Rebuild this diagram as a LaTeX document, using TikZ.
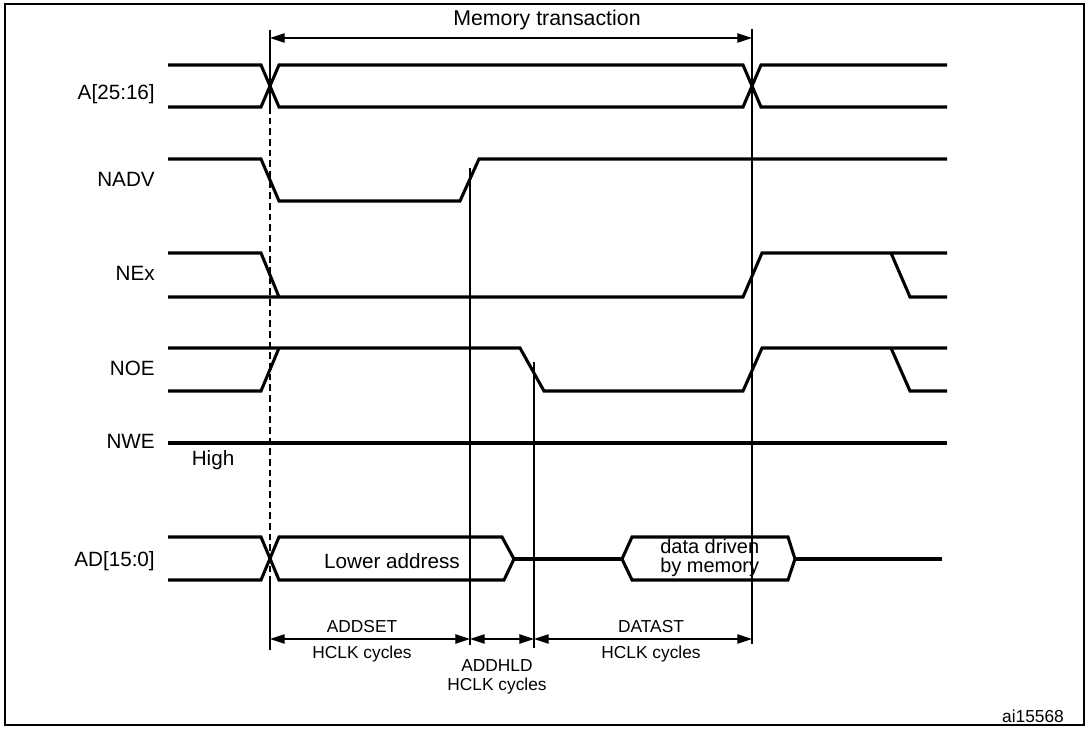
\documentclass[tikz,border=0pt]{standalone}
\usepackage{fontspec}
\setmainfont{Liberation Sans}
\usetikzlibrary{arrows.meta}
\begin{document}
\begin{tikzpicture}[x=0.75pt,y=-0.75pt,
  sig/.style={line width=2.3pt, line join=miter},
  guide/.style={line width=0.8pt},
  dashguide/.style={line width=0.8pt, dash pattern=on 5pt off 3pt},
  dim/.style={line width=0.8pt, {Triangle[length=11pt,width=7pt]}-{Triangle[length=11pt,width=7pt]}},
  lbl/.style={font=\fontsize{15.5}{17}\selectfont, anchor=base east, inner sep=0pt},
  txt/.style={font=\fontsize{15.5}{17}\selectfont, anchor=base, inner sep=0pt},
  small/.style={font=\fontsize{13}{15}\selectfont, anchor=base, inner sep=0pt},
]
\useasboundingbox (0,0) rectangle (1087,728);
\draw[line width=1.6pt] (5,4) rectangle (1084,725);

% signal labels
\node[lbl] (lA) at (155,99) {A[25:16]};
\node[lbl] (lNADV) at (155,186) {NADV};
\node[lbl] (lNEx) at (155,280) {NEx};
\node[lbl] (lNOE) at (155,375) {NOE};
\node[lbl] (lNWE) at (155,448) {NWE};
\node[lbl] (lAD) at (155,566) {AD[15:0]};
\node[txt] (lHigh) at (213,465) {High};

% A[25:16]
\draw[sig] (168,65) -- (261,65) -- (279,107) -- (743,107) -- (761,65) -- (947,65);
\draw[sig] (168,107) -- (261,107) -- (279,65) -- (743,65) -- (761,107) -- (947,107);
% NADV
\draw[sig] (168,159) -- (261,159) -- (279,201) -- (460,201) -- (479,159) -- (947,159);
% NEx
\draw[sig] (168,297) -- (743,297) -- (762,253) -- (947,253);
\draw[sig] (168,253) -- (261,253) -- (279,297);
\draw[sig] (891,253) -- (910,297) -- (947,297);
% NOE
\draw[sig] (168,348) -- (520,348) -- (544,391) -- (743,391) -- (762,348) -- (947,348);
\draw[sig] (168,391) -- (261,391) -- (279,348);
\draw[sig] (891,348) -- (910,391) -- (947,391);
% NWE
\draw[sig] (168,443) -- (947,443);
% AD[15:0]
\draw[sig] (168,537) -- (261,537) -- (279,580) -- (504,580) -- (514,559) -- (502,537) -- (279,537) -- (261,580) -- (168,580);
\draw[sig] (514,559) -- (622,559);
\draw[sig] (622,559) -- (632,537) -- (788,537) -- (795,559) -- (788,580) -- (632,580) -- cycle;
\draw[sig] (795,559) -- (942,559);
\node[txt] (lLow) at (392,568) {Lower address};
\node[txt, anchor=base west, font=\fontsize{15}{16}\selectfont] (lData1) at (660,553) {data driven};
\node[txt, anchor=base west, font=\fontsize{15}{16}\selectfont] (lData2) at (660,572) {by memory};

% guide lines
\coordinate (g1t) at (270,30);
\coordinate (g1a) at (270,107);
\coordinate (g1b) at (270,580);
\coordinate (g1e) at (270,650);
\coordinate (g2t) at (470,168);
\coordinate (g2e) at (470,645);
\coordinate (g3t) at (534,362);
\coordinate (g3e) at (534,648);
\coordinate (g4t) at (752,29);
\coordinate (g4e) at (752,644);
\draw[guide] (g1t) -- (g1a);
\draw[dashguide] (g1a) -- (g1b);
\draw[guide] (g1b) -- (g1e);
\draw[guide] (g2t) -- (g2e);
\draw[guide] (g3t) -- (g3e);
\draw[guide] (g4t) -- (g4e);

% memory transaction
\coordinate (m1) at (270,38);
\coordinate (m2) at (752,38);
\draw[dim] (m1) -- (m2);
\node[txt, font=\fontsize{16}{18}\selectfont] (lMem) at (547,26) {Memory transaction};

% dimension arrows
\coordinate (d1) at (270,639);
\coordinate (d2) at (470,639);
\coordinate (d3) at (534,639);
\coordinate (d4) at (752,639);
\draw[dim] (d1) -- (d2);
\draw[dim] (d2) -- (d3);
\draw[dim] (d3) -- (d4);
\node[small] (lAS) at (362,632) {ADDSET};
\node[small] (lAS2) at (362,658) {HCLK cycles};
\node[small] (lAH) at (497,671) {ADDHLD};
\node[small] (lAH2) at (497,690) {HCLK cycles};
\node[small] (lDS) at (651,632) {DATAST};
\node[small] (lDS2) at (651,658) {HCLK cycles};
\node[small] (lref) at (1033,722) {ai15568};
\end{tikzpicture}
\end{document}
